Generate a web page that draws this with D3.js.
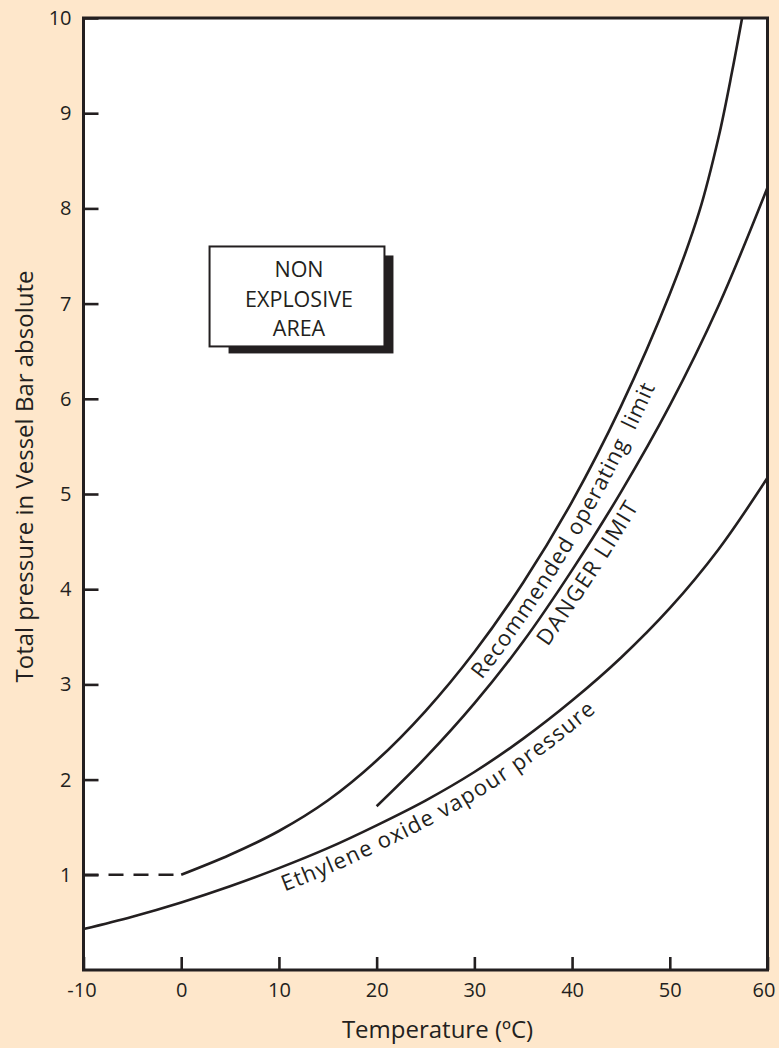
<!DOCTYPE html>
<html>
<head>
<meta charset="utf-8">
<script src="https://cdn.jsdelivr.net/npm/d3@7"></script>
<style>
  html, body { margin: 0; padding: 0; background: #fee7cb; }
  svg { display: block; }
  text { font-family: "Open Sans", sans-serif; fill: #231f20; }
</style>
</head>
<body>
<svg id="chart" width="779" height="1048"></svg>
<script>
// ---- data ----
const xTicks = [-10, 0, 10, 20, 30, 40, 50, 60];
const yTicks = [1, 2, 3, 4, 5, 6, 7, 8, 9, 10];

const vapourTemps = [-10, -5, 0, 5, 10, 15, 20, 25, 30, 35, 40, 45, 50, 55, 60];
const vapourPressure = [0.43, 0.56, 0.71, 0.88, 1.07, 1.28, 1.52, 1.78, 2.08, 2.43, 2.83, 3.28, 3.8, 4.42, 5.17];

const recTemps = [0, 5, 10, 15, 20, 25, 30, 35, 40, 45, 50, 53, 55, 56.4, 57.4];
const recPressure = [1.0, 1.21, 1.46, 1.78, 2.2, 2.72, 3.34, 4.07, 4.92, 5.92, 7.1, 7.96, 8.75, 9.45, 10];

const dashTemps = [-10, 0];
const dashPressure = [1, 1];

const dangerTemps = [20, 25, 30, 35, 40, 45, 50, 55, 60];
const dangerPressure = [1.72, 2.23, 2.8, 3.45, 4.2, 5.02, 5.93, 6.98, 8.22];

const boxTemps = [2.9, 20.8];
const boxPressure = [6.55, 7.6];
const boxLines = ["NON", "EXPLOSIVE", "AREA"];

const labels = [
  { text: "Recommended operating\u00a0\u00a0limit", series: "rec", startT: 28.9, size: 22, spacing: 0.7, dy: 23 },
  { text: "DANGER LIMIT", series: "danger", startT: 35.6, size: 22, spacing: 1.4, dy: 23 },
  { text: "Ethylene oxide vapour pressure", series: "vapour", startT: 9.7, size: 22, spacing: 1.0, dy: 24 }
];

// ---- chart ----
const svg = d3.select("#chart");
const ink = "#231f20";
const x = d3.scaleLinear().domain([-10, 60]).range([83.5, 767.5]);
const y = d3.scaleLinear().domain([0, 10]).range([970, 18]);

// plot area
svg.append("rect")
  .attr("x", x(-10)).attr("y", y(10))
  .attr("width", x(60) - x(-10)).attr("height", y(0) - y(10))
  .attr("fill", "#fff");

// box shadow + box
const bx0 = x(boxTemps[0]), bx1 = x(boxTemps[1]);
const by0 = y(boxPressure[1]), by1 = y(boxPressure[0]);
svg.append("rect")
  .attr("x", bx0 + 19).attr("y", by0 + 9)
  .attr("width", bx1 - bx0 - 10).attr("height", by1 - by0 - 2)
  .attr("fill", ink);
svg.append("rect")
  .attr("x", bx0).attr("y", by0)
  .attr("width", bx1 - bx0).attr("height", by1 - by0)
  .attr("fill", "#fff").attr("stroke", ink).attr("stroke-width", 2);
const bcx = (bx0 + bx1) / 2 + 2;
svg.append("text")
  .attr("text-anchor", "middle")
  .attr("font-size", 21.5)
  .selectAll("tspan").data(boxLines).join("tspan")
  .attr("x", bcx)
  .attr("y", (d, i) => by0 + 31 + i * 29.5)
  .text(d => d);

// curves
const line = d3.line().x(d => x(d[0])).y(d => y(d[1])).curve(d3.curveCatmullRom.alpha(0.5));
const zip = (a, b) => a.map((v, i) => [v, b[i]]);
const series = {
  vapour: zip(vapourTemps, vapourPressure),
  rec: zip(recTemps, recPressure),
  danger: zip(dangerTemps, dangerPressure)
};
const defs = svg.append("defs");
Object.entries(series).forEach(([k, pts]) => {
  defs.append("path").attr("id", "p-" + k).attr("d", line(pts));
  svg.append("path")
    .attr("d", line(pts))
    .attr("fill", "none").attr("stroke", ink).attr("stroke-width", 2.6);
});
svg.append("path")
  .attr("d", d3.line().x(d => x(d[0])).y(d => y(d[1]))(zip(dashTemps, dashPressure)))
  .attr("fill", "none").attr("stroke", ink).attr("stroke-width", 2.4)
  .attr("stroke-dasharray", "15,10");

// curve labels
labels.forEach(l => {
  const p = document.getElementById("p-" + l.series);
  const total = p.getTotalLength();
  const tx = x(l.startT);
  let lo = 0, hi = total;
  for (let i = 0; i < 40; i++) {
    const mid = (lo + hi) / 2;
    if (p.getPointAtLength(mid).x < tx) lo = mid; else hi = mid;
  }
  svg.append("text")
    .attr("font-size", l.size)
    .attr("letter-spacing", l.spacing)
    .attr("dy", l.dy)
    .append("textPath")
    .attr("href", "#p-" + l.series)
    .attr("startOffset", lo)
    .text(l.text);
});

// frame
svg.append("rect")
  .attr("x", x(-10)).attr("y", y(10))
  .attr("width", x(60) - x(-10)).attr("height", y(0) - y(10))
  .attr("fill", "none").attr("stroke", ink).attr("stroke-width", 3);

// axes
const gx = svg.append("g").attr("transform", `translate(0,${y(0)})`)
  .call(d3.axisBottom(x).tickValues(xTicks).tickSize(-13).tickPadding(13).tickFormat(d => String(d)));
const gy = svg.append("g").attr("transform", `translate(${x(-10)},0)`)
  .call(d3.axisLeft(y).tickValues(yTicks).tickSize(-15).tickPadding(12).tickFormat(d => String(d)));
[gx, gy].forEach(g => {
  g.select(".domain").remove();
  g.selectAll(".tick line").attr("stroke", ink).attr("stroke-width", 2.6);
  g.selectAll(".tick text").attr("font-size", 20).attr("fill", ink)
    .style("font-family", '"Open Sans", sans-serif');
});
gx.selectAll(".tick text").filter(d => d === 60).attr("dx", -4);
gx.selectAll(".tick text").filter(d => d === -10).attr("dx", -2);

// axis titles
svg.append("text")
  .attr("x", 437.5).attr("y", 1038)
  .attr("text-anchor", "middle").attr("font-size", 24)
  .text("Temperature (\u00baC)");
svg.append("text")
  .attr("transform", "translate(33,476.5) rotate(-90)")
  .attr("text-anchor", "middle").attr("font-size", 24)
  .text("Total pressure in Vessel Bar absolute");
</script>
</body>
</html>
